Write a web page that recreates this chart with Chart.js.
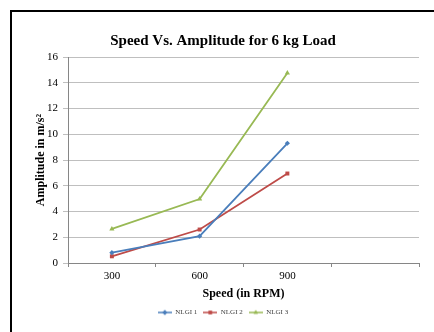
<!DOCTYPE html>
<html><head><meta charset="utf-8">
<script src="https://cdn.jsdelivr.net/npm/chart.js@4/dist/chart.umd.min.js"></script>
<style>
html,body{margin:0;padding:0;background:#fff;width:434px;height:332px;overflow:hidden;}
#frame{position:absolute;left:10px;top:10px;width:440px;height:340px;border:2px solid #000;box-sizing:border-box;}
#wrap{position:absolute;left:12px;top:12px;width:422px;height:320px;}
</style></head>
<body>
<div id="frame"></div>
<div id="wrap"><canvas id="c"></canvas></div>
<script>
const categories = ['300', '600', '900', ''];
const nlgi1 = [0.8, 2.08, 9.3, null];
const nlgi2 = [0.52, 2.6, 6.95, null];
const nlgi3 = [2.65, 4.97, 14.75, null];
const seriesNames = ['NLGI 1', 'NLGI 2', 'NLGI 3'];
const yTicks = [0, 2, 4, 6, 8, 10, 12, 14, 16];

const colors = ['#4a7ebb', '#be4b48', '#98b954'];
const styles = ['rectRot', 'rect', 'triangle'];
const radii = [2.6, 2.8, 3];

function legendIcon(color, style) {
  const cv = document.createElement('canvas');
  cv.width = 14; cv.height = 8;
  const g = cv.getContext('2d');
  g.strokeStyle = color; g.lineWidth = 1.5;
  g.beginPath(); g.moveTo(0, 4); g.lineTo(14, 4); g.stroke();
  g.fillStyle = color;
  Chart.helpers.drawPoint(g, {pointStyle: style, radius: 2.4, rotation: 0, borderWidth: 0}, 7, 4);
  g.fill();
  return cv;
}

const serif = "'Liberation Serif', 'DejaVu Serif', serif";
const data = [nlgi1, nlgi2, nlgi3];
new Chart(document.getElementById('c'), {
  type: 'line',
  data: {
    labels: categories,
    datasets: data.map((d, i) => ({
      label: seriesNames[i],
      data: d,
      borderColor: colors[i],
      backgroundColor: colors[i],
      borderWidth: 1.8,
      pointStyle: styles[i],
      pointRadius: radii[i],
      pointBorderWidth: 0,
      tension: 0
    }))
  },
  options: {
    responsive: true,
    maintainAspectRatio: false,
    animation: false,
    layout: {padding: {left: 15, right: 15, top: 0, bottom: 6}},
    plugins: {
      title: {
        display: true,
        text: 'Speed Vs. Amplitude for 6 kg Load',
        color: '#000',
        font: {family: serif, size: 15, weight: 'bold'},
        padding: {top: 20, bottom: 7}
      },
      legend: {
        position: 'bottom',
        labels: {
          usePointStyle: true,
          pointStyleWidth: 14,
          boxHeight: 7,
          padding: 6,
          color: '#404040',
          font: {family: serif, size: 7},
          generateLabels: (chart) => {
            const items = Chart.defaults.plugins.legend.labels.generateLabels(chart);
            items.forEach((it, i) => { it.pointStyle = legendIcon(colors[i], styles[i]); });
            return items;
          }
        }
      },
      tooltip: {enabled: false}
    },
    scales: {
      x: {
        offset: true,
        afterFit: (s) => { s.height = 40; },
        grid: {display: true, drawOnChartArea: false, drawTicks: true, tickLength: 4, color: '#868686', offset: true},
        border: {color: '#868686', width: 1},
        ticks: {color: '#000', font: {family: serif, size: 11}, padding: 3, maxRotation: 0},
        title: {display: true, text: 'Speed (in RPM)', color: '#000', font: {family: serif, size: 12, weight: 'bold'}, padding: {top: 0, bottom: 2}}
      },
      y: {
        min: 0, max: 16,
        afterFit: (s) => { s.width = 41; },
        afterBuildTicks: (s) => { s.ticks = yTicks.map(v => ({value: v})); },
        grid: {color: '#bfbfbf', tickLength: 5, drawTicks: true, lineWidth: 1},
        border: {color: '#868686', width: 1},
        ticks: {color: '#000', font: {family: serif, size: 11}, padding: 5},
        title: {display: true, text: 'Amplitude in m/s²', color: '#000', font: {family: serif, size: 12, weight: 'bold'}, padding: {top: 7, bottom: 0}}
      }
    }
  }
});
</script>
</body></html>
